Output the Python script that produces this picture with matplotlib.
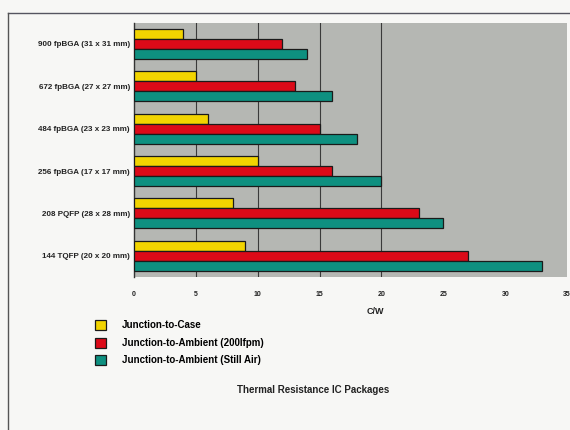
import matplotlib.pyplot as plt
import numpy as np
from matplotlib.lines import Line2D

plt.rcParams['font.family'] = ['Liberation Sans', 'DejaVu Sans']
plt.rcParams['font.weight'] = 'bold'

packages = [
    '900 fpBGA (31 x 31 mm)',
    '672 fpBGA (27 x 27 mm)',
    '484 fpBGA (23 x 23 mm)',
    '256 fpBGA (17 x 17 mm)',
    '208 PQFP (28 x 28 mm)',
    '144 TQFP (20 x 20 mm)',
]
junction_to_case = [4, 5, 6, 10, 8, 9]
junction_to_ambient_200lfpm = [12, 13, 15, 16, 23, 27]
junction_to_ambient_still_air = [14, 16, 18, 20, 25, 33]
series_names = [
    'Junction-to-Case',
    'Junction-to-Ambient (200lfpm)',
    'Junction-to-Ambient (Still Air)',
]
x_ticks = [0, 5, 10, 15, 20, 25, 30, 35]

colors = ['#f2d400', '#dc0a18', '#0e9080']

fig = plt.figure(figsize=(5.7, 4.3), dpi=100, facecolor='#f7f7f5')
ax = fig.add_axes([0.235, 0.356, 0.76, 0.591])
ax.set_facecolor('#b5b7b3')

y = np.arange(len(packages))
h = 0.235
bars = []
for k, (vals, c) in enumerate(zip(
        [junction_to_case, junction_to_ambient_200lfpm, junction_to_ambient_still_air],
        colors)):
    b = ax.barh(y + (k - 1) * h, vals, height=h, color=c,
                edgecolor='#1a1a1a', linewidth=0.9, zorder=3)
    bars.append(b)

ax.set_ylim(len(packages) - 0.5, -0.5)
ax.set_yticks(y)
ax.set_yticklabels(packages, fontsize=5.8, fontweight='bold', color='#222222')
ax.set_xlim(0, 35)
ax.set_xticks(x_ticks)
ax.set_xticklabels([str(t) for t in x_ticks], fontsize=5, fontweight='bold',
                   color='#222222')
ax.tick_params(axis='x', length=0, pad=10)
ax.tick_params(axis='y', length=0, pad=3)

# grid lines only show through on the left part of the chart
ax.grid(axis='x', color='#3a3a3a', linewidth=0.8, zorder=1)
for t, gl in zip(x_ticks, ax.xaxis.get_gridlines()):
    if t > 20 or t == 0:
        gl.set_visible(False)

for side in ['top', 'right', 'bottom']:
    ax.spines[side].set_visible(False)
ax.spines['left'].set_color('#333333')
ax.spines['left'].set_linewidth(1.0)

fig.text(375 / 570, 1 - 311 / 430, 'C/W', fontsize=6.5, fontweight='bold',
         ha='center', va='center', color='#222222')

fig.legend(bars, series_names, loc='upper left',
           bbox_to_anchor=(95 / 570, 1 - 320 / 430), frameon=False,
           fontsize=7, handlelength=1.15, handleheight=1.2,
           handletextpad=1.6, labelspacing=0.75, borderaxespad=0,
           borderpad=0)

fig.text(313 / 570, 1 - 390 / 430, 'Thermal Resistance IC Packages',
         fontsize=7, fontweight='bold', ha='center', va='center',
         color='#222222')

# page frame
fig.add_artist(Line2D([8 / 570, 1], [1 - 13 / 430, 1 - 13 / 430],
                      transform=fig.transFigure, color='#555560', linewidth=1.0))
fig.add_artist(Line2D([8 / 570, 8 / 570], [0, 1 - 13 / 430],
                      transform=fig.transFigure, color='#555555', linewidth=1.0))

fig.savefig('out.png', dpi=100, facecolor=fig.get_facecolor())
